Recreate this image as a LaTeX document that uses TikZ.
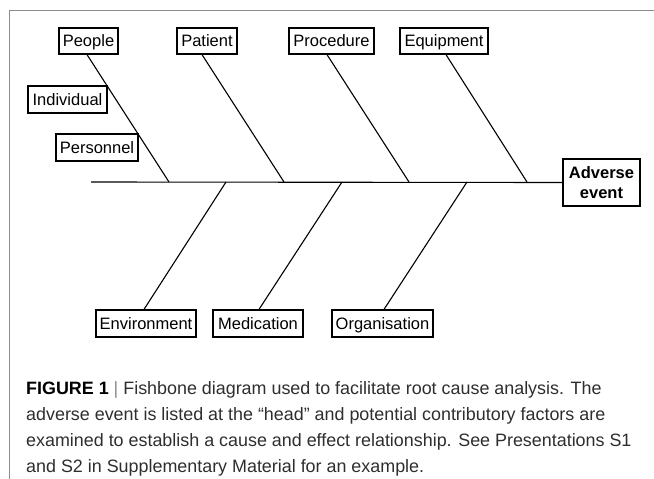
\documentclass[tikz,border=0pt]{standalone}
\usepackage{fontspec}
\setmainfont{Liberation Sans}
\begin{document}
\begin{tikzpicture}[x=1pt,y=-1pt,
  lbl/.style={draw=black,line width=1.2pt,inner sep=0pt,align=center,text height=11.8pt,text depth=0pt,font=\fontsize{16.5}{19}\selectfont},
  bone/.style={line width=1.1pt,black},
  frameline/.style={line width=1pt,draw=black!45},
  captxt/.style={anchor=base west,inner sep=0pt,text=black!82,font=\fontsize{17.9}{22}\selectfont}]
\useasboundingbox (0,0) rectangle (654,479);
% frame
\coordinate (f1) at (9,479);
\coordinate (f2) at (9,10);
\coordinate (f3) at (654,10);
\draw[frameline] (f1) -- (f2) -- (f3);
% boxes
\node[lbl,minimum width=59pt,minimum height=26pt] (people) at (88.5,41) {People};
\node[lbl,minimum width=60pt,minimum height=26pt] (patient) at (207,41) {Patient};
\node[lbl,minimum width=85pt,minimum height=26pt] (procedure) at (331.5,41) {Procedure};
\node[lbl,minimum width=88pt,minimum height=26pt] (equipment) at (444,41) {Equipment};
\node[lbl,minimum width=79pt,minimum height=27pt] (individual) at (67.5,99.5) {Individual};
\node[lbl,minimum width=82pt,minimum height=27pt] (personnel) at (97,147.5) {Personnel};
\node[lbl,minimum width=100pt,minimum height=27pt] (environment) at (146,323.5) {Environment};
\node[lbl,minimum width=90pt,minimum height=27pt] (medication) at (258,323.5) {Medication};
\node[lbl,minimum width=101pt,minimum height=27pt] (organisation) at (382.5,323.5) {Organisation};
\node[draw=black,line width=1.2pt,inner sep=0pt,align=center,minimum width=77pt,minimum height=47pt,font=\fontsize{16.5}{20}\selectfont\bfseries] (adverse) at (601.5,182.5) {Adverse\\event};
% spine
\coordinate (tail) at (91,182);
\draw[bone] (tail) -- (adverse.west);
% junctions on spine
\coordinate (j1) at (169,182);
\coordinate (j2) at (284,182);
\coordinate (j3) at (409,182);
\coordinate (j4) at (527,182);
\coordinate (k1) at (226,182);
\coordinate (k2) at (342,182);
\coordinate (k3) at (467,182);
% upper bones
\draw[bone] ([xshift=-1.5pt]people.south) -- (j1);
\draw[bone] ([xshift=-5pt]patient.south) -- (j2);
\draw[bone] ([xshift=-4.5pt]procedure.south) -- (j3);
\draw[bone] ([xshift=2pt]equipment.south) -- (j4);
% lower bones
\draw[bone] (k1) -- ([xshift=-2pt]environment.north);
\draw[bone] (k2) -- ([xshift=1pt]medication.north);
\draw[bone] (k3) -- ([xshift=1.5pt]organisation.north);
% caption
\node[captxt] (c1) at (26,394) {\textbf{\color{black}FIGURE 1} {\color{black!45}|} Fishbone diagram used to facilitate root cause analysis. The};
\node[captxt] (c2) at (26,420) {adverse event is listed at the “head” and potential contributory factors are};
\node[captxt] (c3) at (26,446) {examined to establish a cause and effect relationship. See Presentations S1};
\node[captxt] (c4) at (26,472) {and S2 in Supplementary Material for an example.};
\end{tikzpicture}
\end{document}
